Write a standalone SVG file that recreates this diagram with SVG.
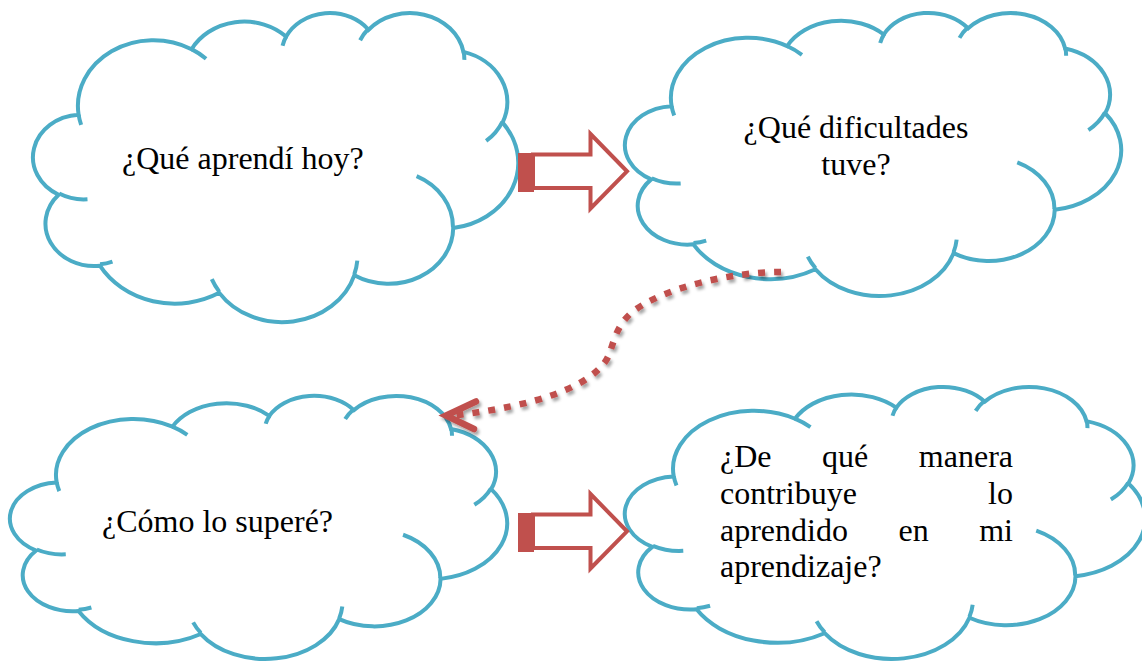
<svg xmlns="http://www.w3.org/2000/svg" width="1142" height="662" viewBox="0 0 1142 662">
<style>
.cloud{fill:#fff;stroke:#4BACC6;stroke-width:4}
.detail{fill:none;stroke:#4BACC6;stroke-width:4}
.lbl{font-family:"Liberation Serif","Times New Roman",serif;font-size:32px;fill:#000}
.barrow{fill:#fff;stroke:#C0504D;stroke-width:4;stroke-linejoin:miter}
.stripe{fill:#C0504D}
.dots{fill:none;stroke:#C0504D;stroke-width:6.5;stroke-dasharray:7 9}
.head{fill:none;stroke:#C0504D;stroke-width:6.5;stroke-linecap:round;stroke-linejoin:miter}
</style>
<defs>
<filter id="shadow" x="-10%" y="-10%" width="130%" height="130%">
<feDropShadow dx="2" dy="3" stdDeviation="1.6" flood-color="#000" flood-opacity="0.35"/>
</filter>
</defs>
<rect width="1142" height="662" fill="#fff"/>

<g id="node-aprendi">
<g transform="translate(35 12) scale(0.011181 0.0071528)">
<path class="cloud" vector-effect="non-scaling-stroke" d="M3900 14370 A6753 9190 0 0 1 14005 5202 A5333 7267 0 0 1 22456 3432 A4365 5945 0 0 1 29833 2481 A4857 6595 0 0 1 38318 5576 A5333 7273 0 0 1 41818 15460 A6775 9220 0 0 1 37404 30203 A5785 7867 0 0 1 28556 36813 A6752 9215 0 0 1 16480 39264 A7720 10543 0 0 1 5805 35470 A4360 5918 0 0 1 2113 25548 A4345 5945 0 0 1 3900 14370 Z"/>
<path class="detail" vector-effect="non-scaling-stroke" d="M4693 26177 A4345 5945 0 0 1 2160 25380 M6928 34899 A4360 5918 0 0 1 5820 35280 M16478 39090 A6752 9215 0 0 1 15810 37350 M28827 34751 A6752 9215 0 0 1 28560 36660 M34129 22954 A5785 7867 0 0 1 37380 30090 M41798 15354 A5333 7273 0 0 1 40350 18030 M38324 5426 A4857 6595 0 0 1 38400 6690 M29078 3952 A4857 6595 0 0 1 29820 2340 M22141 4720 A4365 5945 0 0 1 22500 3330 M14000 5192 A6753 9190 0 0 1 15300 6540 M4127 15789 A6753 9190 0 0 1 3900 14370"/>
</g>
<text class="lbl" x="122" y="169">¿Qué aprendí hoy?</text>
</g>

<g id="node-dificultades">
<g transform="translate(627 12) scale(0.011435 0.0065509)">
<path class="cloud" vector-effect="non-scaling-stroke" d="M3900 14370 A6753 9190 0 0 1 14005 5202 A5333 7267 0 0 1 22456 3432 A4365 5945 0 0 1 29833 2481 A4857 6595 0 0 1 38318 5576 A5333 7273 0 0 1 41818 15460 A6775 9220 0 0 1 37404 30203 A5785 7867 0 0 1 28556 36813 A6752 9215 0 0 1 16480 39264 A7720 10543 0 0 1 5805 35470 A4360 5918 0 0 1 2113 25548 A4345 5945 0 0 1 3900 14370 Z"/>
<path class="detail" vector-effect="non-scaling-stroke" d="M4693 26177 A4345 5945 0 0 1 2160 25380 M6928 34899 A4360 5918 0 0 1 5820 35280 M16478 39090 A6752 9215 0 0 1 15810 37350 M28827 34751 A6752 9215 0 0 1 28560 36660 M34129 22954 A5785 7867 0 0 1 37380 30090 M41798 15354 A5333 7273 0 0 1 40350 18030 M38324 5426 A4857 6595 0 0 1 38400 6690 M29078 3952 A4857 6595 0 0 1 29820 2340 M22141 4720 A4365 5945 0 0 1 22500 3330 M14000 5192 A6753 9190 0 0 1 15300 6540 M4127 15789 A6753 9190 0 0 1 3900 14370"/>
</g>
<text class="lbl" x="856" y="138" text-anchor="middle">¿Qué dificultades</text>
<text class="lbl" x="856" y="175" text-anchor="middle">tuve?</text>
</g>

<g id="node-supere">
<g transform="translate(12 395) scale(0.011458 0.0060880)">
<path class="cloud" vector-effect="non-scaling-stroke" d="M3900 14370 A6753 9190 0 0 1 14005 5202 A5333 7267 0 0 1 22456 3432 A4365 5945 0 0 1 29833 2481 A4857 6595 0 0 1 38318 5576 A5333 7273 0 0 1 41818 15460 A6775 9220 0 0 1 37404 30203 A5785 7867 0 0 1 28556 36813 A6752 9215 0 0 1 16480 39264 A7720 10543 0 0 1 5805 35470 A4360 5918 0 0 1 2113 25548 A4345 5945 0 0 1 3900 14370 Z"/>
<path class="detail" vector-effect="non-scaling-stroke" d="M4693 26177 A4345 5945 0 0 1 2160 25380 M6928 34899 A4360 5918 0 0 1 5820 35280 M16478 39090 A6752 9215 0 0 1 15810 37350 M28827 34751 A6752 9215 0 0 1 28560 36660 M34129 22954 A5785 7867 0 0 1 37380 30090 M41798 15354 A5333 7273 0 0 1 40350 18030 M38324 5426 A4857 6595 0 0 1 38400 6690 M29078 3952 A4857 6595 0 0 1 29820 2340 M22141 4720 A4365 5945 0 0 1 22500 3330 M14000 5192 A6753 9190 0 0 1 15300 6540 M4127 15789 A6753 9190 0 0 1 3900 14370"/>
</g>
<text class="lbl" x="102" y="532">¿Cómo lo superé?</text>
</g>

<g id="node-contribuye">
<g transform="translate(627 386) scale(0.011991 0.0062963)">
<path class="cloud" vector-effect="non-scaling-stroke" d="M3900 14370 A6753 9190 0 0 1 14005 5202 A5333 7267 0 0 1 22456 3432 A4365 5945 0 0 1 29833 2481 A4857 6595 0 0 1 38318 5576 A5333 7273 0 0 1 41818 15460 A6775 9220 0 0 1 37404 30203 A5785 7867 0 0 1 28556 36813 A6752 9215 0 0 1 16480 39264 A7720 10543 0 0 1 5805 35470 A4360 5918 0 0 1 2113 25548 A4345 5945 0 0 1 3900 14370 Z"/>
<path class="detail" vector-effect="non-scaling-stroke" d="M4693 26177 A4345 5945 0 0 1 2160 25380 M6928 34899 A4360 5918 0 0 1 5820 35280 M16478 39090 A6752 9215 0 0 1 15810 37350 M28827 34751 A6752 9215 0 0 1 28560 36660 M34129 22954 A5785 7867 0 0 1 37380 30090 M41798 15354 A5333 7273 0 0 1 40350 18030 M38324 5426 A4857 6595 0 0 1 38400 6690 M29078 3952 A4857 6595 0 0 1 29820 2340 M22141 4720 A4365 5945 0 0 1 22500 3330 M14000 5192 A6753 9190 0 0 1 15300 6540 M4127 15789 A6753 9190 0 0 1 3900 14370"/>
</g>
<text class="lbl" y="467"><tspan x="720">¿De</tspan><tspan x="822">qué</tspan><tspan x="1013" text-anchor="end">manera</tspan></text>
<text class="lbl" y="503.5"><tspan x="720">contribuye</tspan><tspan x="1013" text-anchor="end">lo</tspan></text>
<text class="lbl" y="540.5"><tspan x="720">aprendido</tspan><tspan x="898.5">en</tspan><tspan x="1013" text-anchor="end">mi</tspan></text>
<text class="lbl" x="720" y="577">aprendizaje?</text>
</g>

<g id="connectors">
<g id="arrow-top">
<rect class="stripe" x="518" y="153" width="16" height="39"/>
<path class="barrow" d="M533 154.5 L590.5 154.5 L590.5 134 L627 171.3 L590.5 208.5 L590.5 188 L533 188 Z"/>
</g>
<g id="arrow-bottom">
<rect class="stripe" x="518" y="513" width="16" height="39"/>
<path class="barrow" d="M533 514.5 L590.5 514.5 L590.5 494 L627 531.3 L590.5 568.5 L590.5 548 L533 548 Z"/>
</g>
<g id="dotted-link" filter="url(#shadow)">
<path class="dots" d="M781 272 C730 272 665 288 635 310 C612 327 614 350 605 362 C588 385 545 405 450 416"/>
<path class="head" d="M476 401.5 L446 415.5 L474 429"/>
</g>
</g>
</svg>
